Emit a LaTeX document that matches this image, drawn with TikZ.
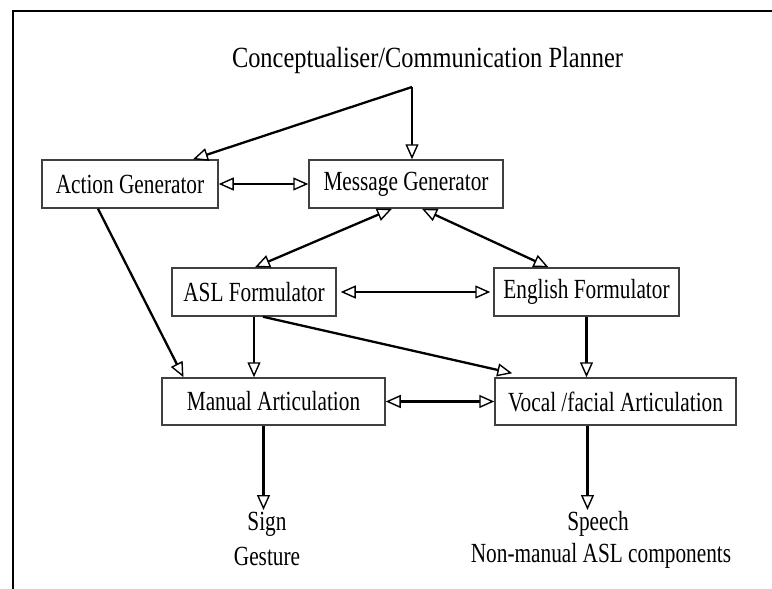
\documentclass[tikz,border=0pt]{standalone}
\usepackage{fontspec}
\setmainfont{Liberation Serif}
\usepackage{graphicx}
\usetikzlibrary{arrows.meta,calc}
\newcommand\Tx[1]{\scalebox{1}[1.3]{#1}}
\newcommand\Tt[1]{\scalebox{1}[1.2]{#1}}
\begin{document}
\begin{tikzpicture}[x=1pt,y=-1pt,
  box/.style={draw=black!75, line width=1.5pt, rectangle, inner sep=0pt,
    minimum height=48pt, font=\fontsize{21.3}{24}\selectfont},
  lbl/.style={inner sep=0pt, font=\fontsize{21.3}{24}\selectfont},
  arr/.style={line width=2.3pt, -{Triangle[open, length=15pt, width=13pt, line width=1.4pt, fill=white]}},
  darr/.style={line width=2.3pt, {Triangle[open, length=15pt, width=13pt, line width=1.4pt, fill=white]}-{Triangle[open, length=15pt, width=13pt, line width=1.4pt, fill=white]}}
]
\useasboundingbox (0,0) rectangle (772,589);
% frame
\draw[line width=2pt] (13,589) -- (13,11) -- (772,11);

% title
\node[inner sep=0pt, anchor=base, font=\fontsize{24.4}{28}\selectfont] (title) at (427.5,67) {\Tt{Conceptualiser/Communication Planner}};
\coordinate (apex) at (412,87);

% boxes
\node[box, minimum width=176pt] (act) at (130,184) {\Tx{Action Generator}};
\node[box, minimum width=194pt] (msg) at (406,184) {\Tx{Message Generator}};
\node[box, minimum width=164pt] (asl) at (254,292) {\Tx{ASL Formulator}};
\node[box, minimum width=185pt] (eng) at (586.5,292) {\Tx{English Formulator}};
\node[box, minimum width=223pt, minimum height=47pt] (man) at (273.5,401.5) {\Tx{Manual Articulation}};
\node[box, minimum width=241pt, minimum height=47pt] (voc) at (615.5,401.5) {\Tx{Vocal /facial Articulation}};

% outputs
\node[lbl] (sign) at (267,524) {\Tx{Sign}};
\node[lbl] (gest) at (267,556) {\Tx{Gesture}};
\node[lbl] (speech) at (598,524) {\Tx{Speech}};
\node[lbl] (nonman) at (601,556) {\Tx{Non-manual ASL components}};
\coordinate (signtip) at (263.5,510);
\coordinate (speechtip) at (587.5,510);

% connectors
\draw[arr] (apex) -- ($(act.north)+(63,0)$);
\draw[arr] (apex) -- ($(msg.north)+(6,0)$);
\draw[darr] (act.east) -- (msg.west);
\draw[darr] ($(msg.south)+(-14,0)$) -- ($(asl.north)+(1,0)$);
\draw[darr] ($(msg.south)+(16,0)$) -- ($(eng.north)+(-38,0)$);
\draw[darr] ($(asl.east)+(4,0)$) -- ($(eng.west)+(-3,0)$);
\draw[arr] ($(act.south)+(-32,0)$) -- ($(man.north)+(-90,0)$);
\draw[arr] (asl.south) -- (asl.south |- man.north);
\draw[arr] ($(asl.south)+(9,0)$) -- ($(voc.north west)+(18,-4)$);
\draw[arr] (eng.south) -- (eng.south |- voc.north);
\draw[darr] (man.east) -- (voc.west);
\draw[arr] ($(man.south)+(-10,0)$) -- (signtip);
\draw[arr] ($(voc.south)+(-28,0)$) -- (speechtip);
\end{tikzpicture}
\end{document}
